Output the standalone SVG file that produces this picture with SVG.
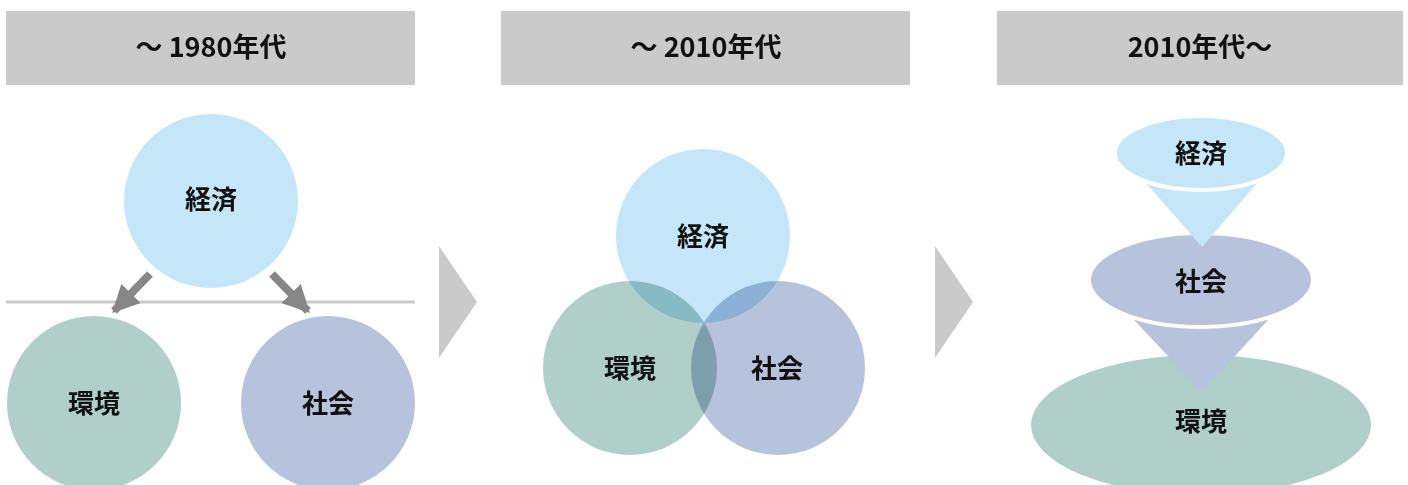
<svg xmlns="http://www.w3.org/2000/svg" width="1408" height="485" viewBox="0 0 1408 485">
<style>
.hdr{fill:#c9cac9}
.ht{font-family:"Noto Sans CJK JP","Noto Sans",sans-serif;font-weight:700;font-size:27px;fill:#111;text-anchor:middle}
.lb{font-family:"Noto Sans CJK JP",sans-serif;font-weight:700;font-size:26px;fill:#111;text-anchor:middle}
.eco{fill:#c5e6f8}
.env{fill:#b0cfc9}
.soc{fill:#b7c3dd}
.chev{fill:#c9cac9}
.m{mix-blend-mode:multiply}
</style>
<defs>
<marker id="ah" viewBox="0 0 10 10" refX="9" refY="5" markerWidth="3.4" markerHeight="3.4" orient="auto" markerUnits="strokeWidth">
<path d="M0,0 L10,5 L0,10 Z" fill="#878787"/>
</marker>
</defs>
<rect width="1408" height="485" fill="#fff"/>
<g id="header1"><rect class="hdr" x="6" y="11" width="409" height="74"/><text class="ht" x="211" y="57">～ 1980年代</text></g>
<g id="header2"><rect class="hdr" x="501" y="11" width="409" height="74"/><text class="ht" x="706" y="57">～ 2010年代</text></g>
<g id="header3"><rect class="hdr" x="997" y="11" width="406" height="74"/><text class="ht" x="1200" y="57">2010年代～</text></g>
<line x1="6" y1="302" x2="415" y2="302" stroke="#c9c9c9" stroke-width="3"/>
<g id="p1-eco"><circle class="eco" cx="211" cy="201" r="87"/><text class="lb" x="211" y="209">経済</text></g>
<g id="p1-env"><circle class="env" cx="94" cy="403" r="87"/><text class="lb" x="94" y="413">環境</text></g>
<g id="p1-soc"><circle class="soc" cx="328" cy="403" r="87"/><text class="lb" x="328" y="413">社会</text></g>
<g id="connectors">
<line x1="150" y1="274" x2="114" y2="311" stroke="#878787" stroke-width="8" marker-end="url(#ah)"/>
<line x1="272" y1="274" x2="308" y2="311" stroke="#878787" stroke-width="8" marker-end="url(#ah)"/>
<polygon class="chev" points="439,246 477,302 439,358"/>
<polygon class="chev" points="935,246 973,302 935,358"/>
</g>
<g id="p2-eco"><circle class="eco m" cx="703" cy="236" r="87"/></g>
<g id="p2-env"><circle class="env m" cx="630" cy="368" r="87"/></g>
<g id="p2-soc"><circle class="soc m" cx="778" cy="368" r="87"/></g>
<g id="p2-labels">
<text class="lb" x="703" y="246">経済</text>
<text class="lb" x="630" y="378">環境</text>
<text class="lb" x="777" y="378">社会</text>
</g>
<g id="p3-env"><ellipse class="env" cx="1201" cy="425" rx="170" ry="70"/><text class="lb" x="1201" y="431">環境</text></g>
<g id="p3-soc">
<polygon class="soc" points="1134,320 1268,320 1202,392"/>
<ellipse class="soc" cx="1201" cy="280" rx="112" ry="47" stroke="#fff" stroke-width="4"/>
<text class="lb" x="1201" y="291">社会</text>
</g>
<g id="p3-eco">
<polygon class="eco" points="1146,183 1257,183 1202,247"/>
<ellipse class="eco" cx="1201" cy="153" rx="86" ry="37" stroke="#fff" stroke-width="4"/>
<text class="lb" x="1201" y="163">経済</text>
</g>
</svg>
